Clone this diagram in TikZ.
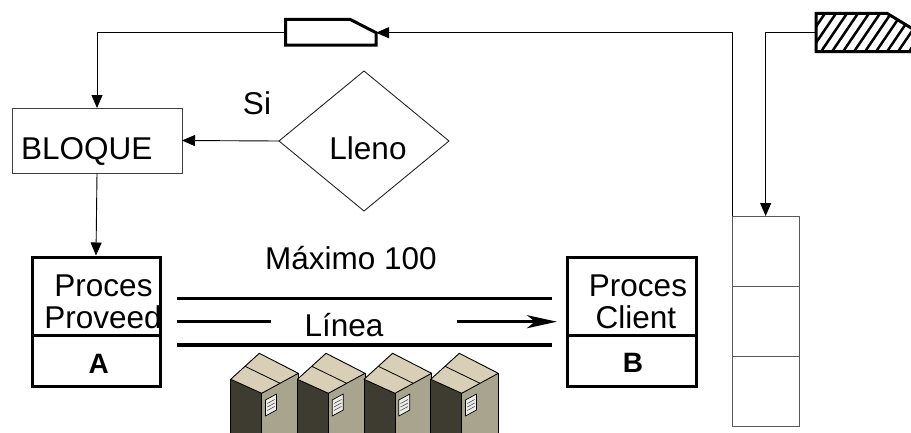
\documentclass[tikz,border=0pt]{standalone}
\usepackage{fontspec}
\setmainfont{Liberation Sans}
\usetikzlibrary{shapes.geometric,arrows.meta,calc}

\definecolor{cartonTop}{HTML}{D8CFB6}
\definecolor{cartonLeft}{HTML}{3E3C30}
\definecolor{cartonRight}{HTML}{A8A48E}
\definecolor{tagPaper}{HTML}{EDEDE8}

\begin{document}
\begin{tikzpicture}[x=1pt,y=-1pt,
  txt/.style={font=\fontsize{31.5}{33}\selectfont, anchor=base, inner sep=0pt},
  tag/.style={font=\fontsize{28}{30}\selectfont\bfseries, anchor=base, inner sep=0pt},
  wire/.style={line width=0.9pt, black},
  flow/.style={wire, -{Triangle[length=13pt,width=11pt]}},
  procbox/.style={draw, line width=3pt, minimum width=128pt, minimum height=129pt, inner sep=0pt},
  kanban/.style={line width=3pt, line join=miter},
  belt/.style={line width=3.2pt},
  thinbox/.style={draw=black!75, line width=0.9pt, inner sep=0pt, outer sep=0pt},
  carton/.style={draw=black, line width=0.9pt, line join=round},
]
\useasboundingbox (0,0) rectangle (911,432);
\clip (0,0) rectangle (911,432);

% ---- buffer block and decision ----
\node[thinbox, minimum width=170pt, minimum height=65pt] (bloque) at (97,140.5) {};
\node[txt] (bloquet) at (86.7,159) {BLOQUE};
\node[thinbox, draw=black!85, diamond, minimum width=170pt, minimum height=140pt] (lleno) at (364,141) {};
\node[txt] (llenot) at (368,159) {Lleno};
\node[txt] (si) at (257,114) {Si};

% ---- supplier and customer processes ----
\node[txt] (pa1) at (103.5,296.7) {Proces};
\node[txt] (pa2) at (103,328) {Proveed};
\node[txt] (pb1) at (638,296.7) {Proces};
\node[txt] (pb2) at (636,328) {Client};
\node[procbox] (pa) at (96,321.5) {};
\node[procbox, minimum width=129pt] (pb) at (631.5,321.5) {};
\draw[line width=3pt] (pa.west |- 0,335) -- (pa.east |- 0,335);
\draw[line width=3pt] (pb.west |- 0,335) -- (pb.east |- 0,335);
\node[tag] (pal) at (98.7,373) {A};
\node[tag] (pbl) at (633,372) {B};

% ---- FIFO lane ----
\node[txt] (maximo) at (351,269) {Máximo 100};
\draw[belt] (177,298.3) -- (552,298.3);
\draw[belt] (177,345) -- (552,345);
\draw[belt] (177,321.7) -- (271,321.7);
\draw[belt, -{Stealth[length=30pt,width=13pt,inset=8pt]}] (457,321.7) -- (557,321.7);
\node[txt] (linea) at (344,336.7) {Línea};

% ---- cartons on the lane ----
\foreach \dx in {0,66.7,133.3,200} {
  \begin{scope}[shift={(\dx,0)}]
    \fill[cartonLeft] (230.7,379.3) -- (261.7,393.3) -- (261.7,445) -- (230.7,445) -- cycle;
    \fill[cartonRight] (261.7,393.3) -- (298.3,373.3) -- (298.3,445) -- (261.7,445) -- cycle;
    \draw[carton, fill=cartonTop] (259.3,353.3) -- (298.3,373.3) -- (261.7,393.3) -- (230.7,379.3) -- cycle;
    \draw[carton] (230.7,379.3) -- (230.7,445);
    \draw[carton] (261.7,393.3) -- (261.7,445);
    \draw[carton] (298.3,373.3) -- (298.3,445);
    \draw[carton, line width=0.8pt] (245,366.3) -- (280,383.3);
    \draw[carton, line width=0.7pt, fill=tagPaper] (265.5,400) -- (276.5,394) -- (276.5,410) -- (265.5,416) -- cycle;
    \foreach \k in {1,2,3}
      \draw[black!70, line width=0.6pt] (267.3,{400+3.5*\k}) -- (274.7,{396+3.5*\k});
  \end{scope}
}

% ---- kanban post ----
\node[thinbox, draw=black!65, line width=1pt, minimum width=66.7pt, minimum height=210.7pt] (post) at (765.65,321.35) {};
\draw[black!65, line width=1pt] (post.west |- 0,286.7) -- (post.east |- 0,286.7);
\draw[black!65, line width=1pt] (post.west |- 0,356) -- (post.east |- 0,356);

% ---- withdrawal kanban ----
\draw[kanban, fill=white] (285.7,19.3) -- (350,19.3) -- (376,32.7) -- (376,45) -- (285.7,45) -- cycle;
\coordinate (wkR) at (376,32.7);
\coordinate (wkL) at (284.2,32.7);

% ---- production kanban (hatched) ----
\begin{scope}
  \clip (816,13.3) -- (887,13.3) -- (925,36.4) -- (925,51.7) -- (816,51.7) -- cycle;
  \foreach \k in {0,...,14}
    \draw[line width=2.5pt] ({785+11*\k},56) -- ({817+11*\k},9);
\end{scope}
\draw[kanban] (816,13.3) -- (887,13.3) -- (925,36.4) -- (925,51.7) -- (816,51.7) -- cycle;
\coordinate (hkL) at (814.5,32.7);

% ---- information flow ----
\draw[flow] (post.north west) |- (wkR);
\draw[flow] (wkL) -| (bloque.north);
\draw[flow] (lleno.west) -- (bloque.east);
\draw[flow] (bloque.south) -- (pa.north);
\draw[flow] (hkL) -| (post.north);
\end{tikzpicture}
\end{document}
